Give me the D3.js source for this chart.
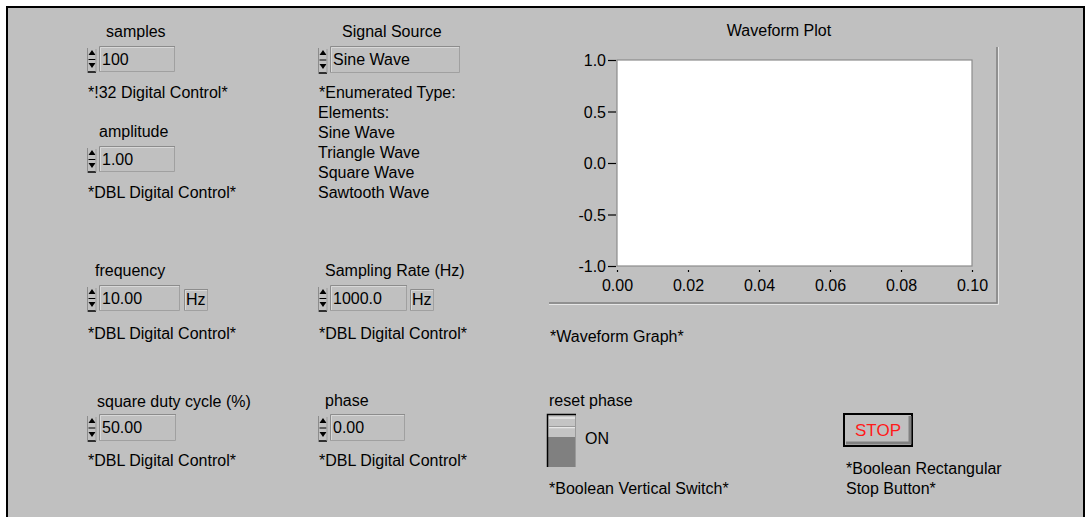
<!DOCTYPE html>
<html>
<head>
<meta charset="utf-8">
<script src="https://cdn.jsdelivr.net/npm/d3@7"></script>
<style>
  html, body { margin: 0; padding: 0; background: #ffffff; }
  svg { display: block; }
  text { font-family: "Liberation Sans", Arial, sans-serif; font-size: 16px; fill: #000; }
</style>
</head>
<body>
<svg id="panel" width="1086" height="517"></svg>
<script>
// ---- data ----
const xTicks = [0.00, 0.02, 0.04, 0.06, 0.08, 0.10];
const yTicks = [-1.0, -0.5, 0.0, 0.5, 1.0];
const enumElements = ["Sine Wave", "Triangle Wave", "Square Wave", "Sawtooth Wave"];
const controlLabels = ["samples", "amplitude", "frequency", "square duty cycle (%)", "Signal Source", "Sampling Rate (Hz)", "phase"];
const controlValues = ["100", "1.00", "10.00", "50.00", "Sine Wave", "1000.0", "0.00"];
const controlNotes = ["*!32 Digital Control*", "*DBL Digital Control*", "*DBL Digital Control*", "*DBL Digital Control*", "*Enumerated Type:", "*DBL Digital Control*", "*DBL Digital Control*"];
const controlUnits = ["", "", "Hz", "", "", "Hz", ""];

const svg = d3.select("#panel");

// panel background and frame
svg.append("rect").attr("x", 7).attr("y", 7).attr("width", 1077).attr("height", 515)
  .attr("fill", "#c0c0c0").attr("stroke", "#000").attr("stroke-width", 2);

// layout for controls (positions are layout, not data)
const layout = [
  {lx: 106, ly: 37, bx: 99, by: 46, bw: 76, bh: 26, ny: 98, ux: 0},
  {lx: 99, ly: 137, bx: 99, by: 146, bw: 76, bh: 26, ny: 198, ux: 0},
  {lx: 95, ly: 276, bx: 99, by: 285, bw: 81, bh: 26, ny: 339, ux: 184},
  {lx: 97, ly: 407, bx: 99, by: 414, bw: 77, bh: 27, ny: 466, ux: 0},
  {lx: 342, ly: 37, bx: 330, by: 46, bw: 130, bh: 27, ny: 98, ux: 0},
  {lx: 325, ly: 276, bx: 330, by: 285, bw: 77, bh: 26, ny: 339, ux: 410},
  {lx: 325, ly: 406, bx: 330, by: 414, bw: 75, bh: 27, ny: 466, ux: 0}
];

function spinner(g, x, y, h) {
  const cx = x + 5;
  g.append("line").attr("x1", x + 0.5).attr("x2", x + 0.5).attr("y1", y + 1).attr("y2", y + h)
    .attr("stroke", "#8c8c8c").attr("stroke-width", 1);
  g.append("path").attr("d", `M${cx - 3.5},${y + 8} L${cx},${y + 3} L${cx + 3.5},${y + 8} Z`).attr("fill", "#000");
  g.append("line").attr("x1", cx - 3.5).attr("x2", cx + 3.5).attr("y1", y + h / 2 - 0.5).attr("y2", y + h / 2 - 0.5)
    .attr("stroke", "#000").attr("stroke-width", 1);
  g.append("path").attr("d", `M${cx - 3.5},${y + h - 10} L${cx},${y + h - 5} L${cx + 3.5},${y + h - 10} Z`).attr("fill", "#000");
  g.append("line").attr("x1", x + 1).attr("x2", x + 9).attr("y1", y + h - 1).attr("y2", y + h - 1)
    .attr("stroke", "#000").attr("stroke-width", 1.5);
  g.append("line").attr("x1", x + 9).attr("x2", x + 9).attr("y1", y + 2).attr("y2", y + h - 1)
    .attr("stroke", "#9a9a9a").attr("stroke-width", 1);
}

function sunkenBox(g, x, y, w, h) {
  g.append("rect").attr("x", x).attr("y", y).attr("width", w).attr("height", h).attr("fill", "#c0c0c0");
  g.append("path").attr("d", `M${x + 0.5},${y + h} L${x + 0.5},${y + 0.5} L${x + w},${y + 0.5}`)
    .attr("fill", "none").attr("stroke", "#8c8c8c").attr("stroke-width", 1);
  g.append("path").attr("d", `M${x + 1.5},${y + h - 1} L${x + 1.5},${y + 1.5} L${x + w - 1},${y + 1.5}`)
    .attr("fill", "none").attr("stroke", "#d8d8d8").attr("stroke-width", 1);
  g.append("path").attr("d", `M${x + w - 0.5},${y + 1} L${x + w - 0.5},${y + h - 0.5} L${x},${y + h - 0.5}`)
    .attr("fill", "none").attr("stroke", "#a0a0a0").attr("stroke-width", 1);
}

controlLabels.forEach((lab, i) => {
  const L = layout[i];
  const g = svg.append("g");
  g.append("text").attr("x", L.lx).attr("y", L.ly).text(lab);
  spinner(g, L.bx - 12, L.by + 1, L.bh);
  sunkenBox(g, L.bx, L.by, L.bw, L.bh);
  g.append("text").attr("x", L.bx + 3).attr("y", L.by + 19).text(controlValues[i]);
  if (controlUnits[i]) {
    sunkenBox(g, L.ux, L.by + 4, 24, 22);
    g.append("text").attr("x", L.ux + 2).attr("y", L.by + 20).text(controlUnits[i]);
  }
  g.append("text").attr("x", L.bx - 11).attr("y", L.ny).text(controlNotes[i]);
});

// enumerated elements list
const enumLines = ["Elements:"].concat(enumElements);
svg.append("g").selectAll("text").data(enumLines).join("text")
  .attr("x", 318).attr("y", (d, i) => 118 + i * 20).text(d => d);

// ---- waveform graph ----
const plot = {left: 617, top: 60, right: 972, bottom: 266};
const x = d3.scaleLinear().domain([0, 0.10]).range([plot.left, plot.right]);
const y = d3.scaleLinear().domain([-1, 1]).range([plot.bottom, plot.top]);

// graph frame (raised edges)
svg.append("path").attr("d", `M549,303 L997,303 L997,47`).attr("fill", "none")
  .attr("stroke", "#808080").attr("stroke-width", 1.5);
svg.append("path").attr("d", `M549,304.5 L998.5,304.5 L998.5,47`).attr("fill", "none")
  .attr("stroke", "#e6e6e6").attr("stroke-width", 1);

svg.append("text").attr("x", 779).attr("y", 36).attr("text-anchor", "middle").text("Waveform Plot");

svg.append("rect").attr("x", plot.left).attr("y", plot.top)
  .attr("width", plot.right - plot.left).attr("height", plot.bottom - plot.top)
  .attr("fill", "#ffffff").attr("stroke", "#8c8c8c").attr("stroke-width", 1.2);

const yAxis = svg.append("g").attr("transform", `translate(${plot.left - 1},0)`)
  .call(d3.axisLeft(y).tickValues(yTicks).tickSize(8).tickPadding(2).tickFormat(d3.format(".1f")));
yAxis.select(".domain").remove();
yAxis.selectAll("line").attr("stroke", "#000").attr("stroke-width", 1.2);
yAxis.selectAll("text").attr("font-family", null).attr("font-size", null).attr("dy", "0.36em")
  .text(d => d3.format(".1f")(d).replace("−", "-"));

const xAxis = svg.append("g").attr("transform", `translate(0,${plot.bottom + 4})`)
  .call(d3.axisBottom(x).tickValues(xTicks).tickSize(2).tickPadding(8).tickFormat(d3.format(".2f")));
xAxis.select(".domain").remove();
xAxis.selectAll("line").attr("stroke", "#000").attr("stroke-width", 1.2);
xAxis.selectAll("text").attr("font-family", null).attr("font-size", null);

svg.append("text").attr("x", 550).attr("y", 342).text("*Waveform Graph*");

// ---- reset phase switch ----
svg.append("text").attr("x", 549).attr("y", 406).text("reset phase");
svg.append("rect").attr("x", 548).attr("y", 415).attr("width", 27).attr("height", 52).attr("fill", "#c4c4c4");
svg.append("rect").attr("x", 548).attr("y", 437).attr("width", 27).attr("height", 30).attr("fill", "#808080");
svg.append("line").attr("x1", 549).attr("x2", 575).attr("y1", 418).attr("y2", 418).attr("stroke", "#e8e8e8").attr("stroke-width", 1.5);
svg.append("line").attr("x1", 549).attr("x2", 575).attr("y1", 427.5).attr("y2", 427.5).attr("stroke", "#e8e8e8").attr("stroke-width", 1.5);
svg.append("line").attr("x1", 549).attr("x2", 575).attr("y1", 426.5).attr("y2", 426.5).attr("stroke", "#9a9a9a").attr("stroke-width", 1);
svg.append("line").attr("x1", 575.5).attr("x2", 575.5).attr("y1", 415).attr("y2", 467).attr("stroke", "#9a9a9a").attr("stroke-width", 1);
svg.append("path").attr("d", "M547.5,467 L547.5,414.5 L576,414.5").attr("fill", "none").attr("stroke", "#000").attr("stroke-width", 1.5);
svg.append("text").attr("x", 585).attr("y", 444).text("ON");
svg.append("text").attr("x", 549).attr("y", 494).text("*Boolean Vertical Switch*");

// ---- STOP button ----
svg.append("rect").attr("x", 844).attr("y", 414).attr("width", 68).attr("height", 32)
  .attr("fill", "#c0c0c0").attr("stroke", "#000").attr("stroke-width", 2);
svg.append("path").attr("d", "M846,443 L910,443 L910,416").attr("fill", "none").attr("stroke", "#808080").attr("stroke-width", 3);
svg.append("text").attr("x", 878).attr("y", 436).attr("text-anchor", "middle")
  .style("fill", "#ff1a1a").style("font-size", "17px").text("STOP");
svg.append("text").attr("x", 846).attr("y", 474).text("*Boolean Rectangular");
svg.append("text").attr("x", 846).attr("y", 494).text("Stop Button*");
</script>
</body>
</html>
